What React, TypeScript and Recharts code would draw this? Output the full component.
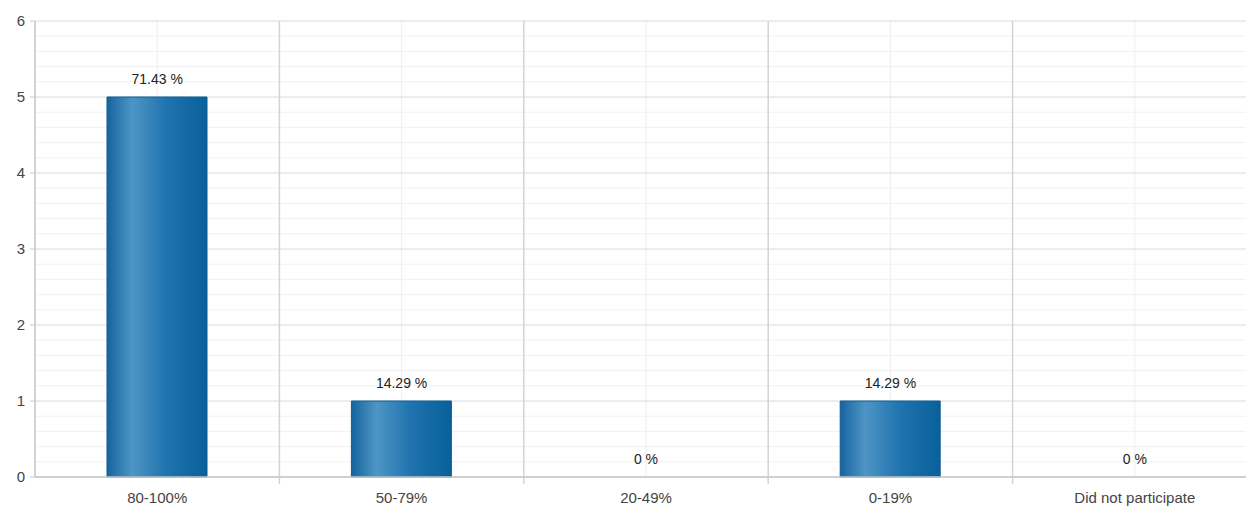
import React from 'react';
import {
  ComposedChart, Bar, Line, XAxis, YAxis, CartesianGrid, LabelList,
} from 'recharts';

// --- data ---
const categories = ['80-100%', '50-79%', '20-49%', '0-19%', 'Did not participate'];
const counts = [5, 1, 0, 1, 0];
const percentLabels = ['71.43 %', '14.29 %', '0 %', '14.29 %', '0 %'];
const yTicks = [0, 1, 2, 3, 4, 5, 6];
const minorY = [
  0.2, 0.4, 0.6, 0.8, 1.2, 1.4, 1.6, 1.8, 2.2, 2.4, 2.6, 2.8,
  3.2, 3.4, 3.6, 3.8, 4.2, 4.4, 4.6, 4.8, 5.2, 5.4, 5.6, 5.8,
];

const COLORS = {
  major: '#d6dadc',
  minor: '#eff1f2',
  center: '#eeeeee',
  boundary: '#d0d4d6',
  axis: '#c4c8ca',
  tickText: '#444444',
  label: '#222222',
};

const data = categories.map((name, i) => ({
  name,
  value: counts[i],
  label: percentLabels[i],
}));

// category label plus the small boundary tick below the baseline
const CategoryTick = (props: any) => {
  const { x, y, payload, index, width } = props;
  const band = width / categories.length;
  return (
    <g>
      {index < categories.length - 1 && (
        <line x1={x + band / 2} x2={x + band / 2} y1={y} y2={y + 7} stroke={COLORS.boundary} strokeWidth={1.5} />
      )}
      <text x={x} y={y + 26} textAnchor="middle" fontSize={15} fill={COLORS.tickText}>
        {payload.value}
      </text>
    </g>
  );
};

// vertical grid lines on the category boundaries (equal bands across the plot)
const boundaryLines = ({ offset }: any) => {
  if (!offset) return [];
  const band = offset.width / categories.length;
  return categories.slice(1).map((_, i) => offset.left + (i + 1) * band);
};

export default function App() {
  return (
    <div style={{ position: 'absolute', left: 0, top: 0, width: 1246, height: 507, background: '#fff', overflow: 'hidden' }}>
      <ComposedChart
        width={1246}
        height={507}
        data={data}
        margin={{ top: 21, right: -11, left: 0, bottom: 0 }}
        style={{ fontFamily: 'Liberation Sans, Arial, sans-serif', overflow: 'hidden' }}
      >
        <defs>
          <linearGradient id="barGrad" x1="0" y1="0" x2="1" y2="0">
            <stop offset="0%" stopColor="#16649e" />
            <stop offset="25%" stopColor="#4e95c5" />
            <stop offset="60%" stopColor="#1f73ae" />
            <stop offset="100%" stopColor="#09609b" />
          </linearGradient>
        </defs>

        <CartesianGrid stroke={COLORS.minor} vertical={false} horizontalValues={minorY} />
        <CartesianGrid stroke={COLORS.center} horizontal={false} />
        <CartesianGrid stroke={COLORS.major} vertical={false} />
        <CartesianGrid
          stroke={COLORS.boundary}
          strokeWidth={1.5}
          horizontal={false}
          verticalCoordinatesGenerator={boundaryLines}
        />

        <XAxis
          dataKey="name"
          height={30}
          axisLine={{ stroke: COLORS.axis, strokeWidth: 1.5 }}
          tickLine={false}
          tickSize={0}
          tickMargin={0}
          tick={<CategoryTick />}
          interval={0}
        />
        <YAxis
          domain={[0, 6]}
          ticks={yTicks}
          width={35}
          axisLine={{ stroke: COLORS.axis, strokeWidth: 1.5 }}
          tickLine={{ stroke: COLORS.axis }}
          tickSize={5}
          tickMargin={5}
          tick={{ fontSize: 15, fill: COLORS.tickText }}
          interval={0}
        />
        <Bar
          dataKey="value"
          fill="url(#barGrad)"
          stroke="#0c5d97"
          strokeWidth={1}
          barSize={100}
          isAnimationActive={false}
        />
        <Line
          dataKey="value"
          stroke="none"
          dot={false}
          activeDot={false}
          isAnimationActive={false}
        >
          <LabelList dataKey="label" position="top" offset={13} fill={COLORS.label} fontSize={14} />
        </Line>
      </ComposedChart>
    </div>
  );
}
